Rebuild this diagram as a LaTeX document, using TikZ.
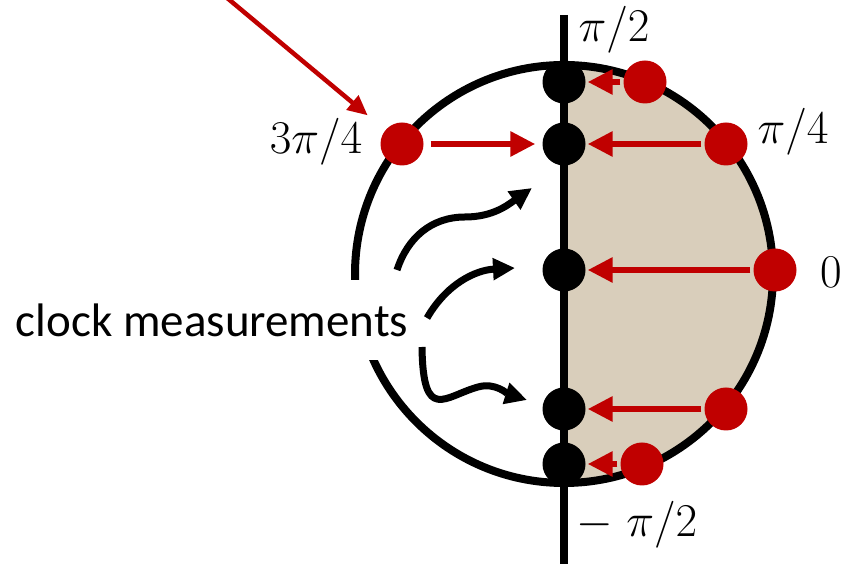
\RequirePackage{fix-cm}
\documentclass[tikz,border=0pt]{standalone}
\usepackage{fontspec}
\newfontfamily\calibri{Carlito}
\usepackage{tikz}
\usetikzlibrary{arrows.meta}
\usepackage{xcolor}
\definecolor{darkred}{RGB}{192,0,0}
\definecolor{tanfill}{RGB}{217,206,187}

\begin{document}
\begin{tikzpicture}[x=1pt,y=1pt,
  dot/.style={circle, inner sep=0pt, minimum size=43pt},
  blackdot/.style={dot, fill=black},
  reddot/.style={dot, fill=darkred},
  redarrow/.style={draw=darkred, line width=6pt, -{Triangle[length=25pt,width=24pt]}, shorten <=3pt, shorten >=2pt},
  bigarrow/.style={draw=darkred, line width=4.5pt, -{Triangle[length=20pt,width=18pt]}},
  measarrow/.style={draw=black, line width=7pt, -{Triangle[length=22pt,width=21pt]}},
  lbl/.style={font=\fontsize{47}{56}\selectfont}]
  \useasboundingbox (0,0) rectangle (843,564);
  \fill[tanfill] (564,499) arc (90:-90:209) -- cycle;
  \draw[line width=8pt] (564,290) circle (209);
  \draw[line width=8pt] (564,549) -- (564,-5);
  \node[fill=white, font=\calibri\fontsize{47}{56}\selectfont, inner xsep=3pt, minimum height=80pt] (clk) at (212,244) {clock measurements};

  \node[blackdot] (bt) at (564,482) {};
  \node[blackdot] (bq) at (564,420) {};
  \node[blackdot] (bz) at (564,294) {};
  \node[blackdot] (bl) at (564,155) {};
  \node[blackdot] (bb) at (564,100) {};

  \node[reddot] (rt) at (645,482) {};
  \node[reddot] (rq) at (726,420) {};
  \node[reddot] (rz) at (775,294) {};
  \node[reddot] (rl) at (726,155) {};
  \node[reddot] (rb) at (642,100) {};
  \node[reddot] (rthree) at (402,420) {};

  \node[lbl] (lhalf) at (614,534) {$\pi/2$};
  \node[lbl] (lquarter) at (793,432) {$\pi/4$};
  \node[lbl] (lzero) at (831,292) {$0$};
  \node[lbl] (lthree) at (316,422) {$3\pi/4$};
  \node[lbl] (lminus) at (637,39) {$-\;\pi/2$};

  \draw[redarrow] (rt) -- (bt);
  \draw[redarrow] (rq) -- (bq);
  \draw[redarrow] (rz) -- (bz);
  \draw[redarrow] (rl) -- (bl);
  \draw[redarrow] (rb) -- (bb);
  \draw[redarrow, shorten <=7pt, shorten >=7pt] (rthree) -- (bq);

  \coordinate (src) at (220,572);
  \draw[bigarrow, shorten >=23pt] (src) -- (rthree);

  \coordinate (m1s) at (397,294);
  \coordinate (m1m) at (465,347);
  \coordinate (m1e) at (532,376);
  \coordinate (m2s) at (427,246);
  \coordinate (m2e) at (515,296);
  \coordinate (m3s) at (422,217);
  \coordinate (m3m) at (478,177);
  \coordinate (m3e) at (527,164);
  \draw[measarrow] (m1s) to[out=72,in=180] (m1m) to[out=0,in=215] (m1e);
  \draw[measarrow] (m2s) to[out=60,in=183] (m2e);
  \draw[measarrow] (m3s) .. controls (423,140) and (445,168) .. (m3m) .. controls (495,182) and (508,170) .. (m3e);
\end{tikzpicture}
\end{document}
